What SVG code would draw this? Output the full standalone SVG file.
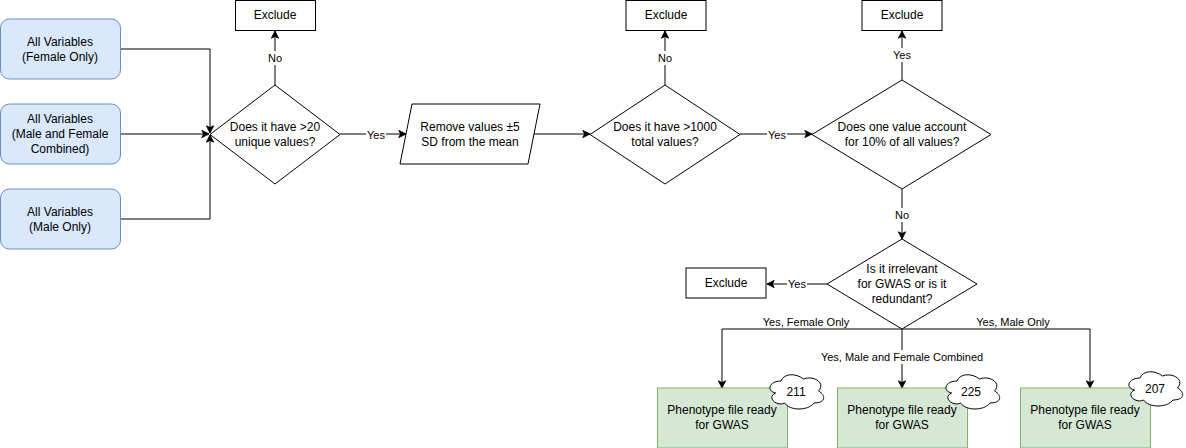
<svg xmlns="http://www.w3.org/2000/svg" width="1186" height="448" viewBox="0 0 1186 448">
<style>
  text { font-family: "Liberation Sans", Arial, sans-serif; font-size: 12px; fill: #000; text-anchor: middle; dominant-baseline: central; }
  .lbl { font-size: 11px; }
  .blue { fill: #dae8fc; stroke: #6c8ebf; stroke-width: 1; }
  .green { fill: #d5e8d4; stroke: #82b366; stroke-width: 1; }
  .plain { fill: #fff; stroke: #000; stroke-width: 1; }
  .edge { fill: none; stroke: #000; stroke-width: 1; }
  .lblbg { fill: #fff; }
</style>
<defs>
  <marker id="arr" viewBox="0 0 10 10" markerWidth="9" markerHeight="9" refX="9" refY="5" orient="auto" markerUnits="userSpaceOnUse">
    <path d="M1,1 L9,5 L1,9 L3,5 Z" fill="#000" stroke="#000" stroke-width="1"/>
  </marker>
  <path id="cloud" d="M15,10 C3,10 0,20 9.6,22 C0,26.4 10.8,36 18.6,32 C24,40 42,40 48,32 C60,32 60,24 52.5,20 C60,12 48,4 37.5,8 C30,2 18,2 15,10 Z"/>
</defs>
<rect width="1186" height="448" fill="#fff"/>

<g id="connectors">
  <path class="edge" d="M120,49 H210 V133" marker-end="url(#arr)"/>
  <path class="edge" d="M120,134 H209" marker-end="url(#arr)"/>
  <path class="edge" d="M120,219 H210 V135" marker-end="url(#arr)"/>
  <path class="edge" d="M275,85 V31" marker-end="url(#arr)"/>
  <path class="edge" d="M340,134 H406" marker-end="url(#arr)"/>
  <path class="edge" d="M534,134 H590" marker-end="url(#arr)"/>
  <path class="edge" d="M665,85 V31" marker-end="url(#arr)"/>
  <path class="edge" d="M740,134 H812" marker-end="url(#arr)"/>
  <path class="edge" d="M902,80 V31" marker-end="url(#arr)"/>
  <path class="edge" d="M902,189 V239" marker-end="url(#arr)"/>
  <path class="edge" d="M827,284 H767" marker-end="url(#arr)"/>
  <path class="edge" d="M902,329 H722 V388" marker-end="url(#arr)"/>
  <path class="edge" d="M902,329 V388" marker-end="url(#arr)"/>
  <path class="edge" d="M902,329 H1090 V388" marker-end="url(#arr)"/>
  <rect class="lblbg" x="268" y="51" width="15" height="14"/>
  <text class="lbl" x="275" y="58">No</text>
  <rect class="lblbg" x="366" y="128" width="20" height="14"/>
  <text class="lbl" x="376" y="135">Yes</text>
  <rect class="lblbg" x="658" y="51" width="15" height="14"/>
  <text class="lbl" x="665" y="58">No</text>
  <rect class="lblbg" x="767" y="128" width="20" height="14"/>
  <text class="lbl" x="777" y="135">Yes</text>
  <rect class="lblbg" x="892" y="48" width="20" height="14"/>
  <text class="lbl" x="902" y="55">Yes</text>
  <rect class="lblbg" x="895" y="208" width="15" height="14"/>
  <text class="lbl" x="902" y="215">No</text>
  <rect class="lblbg" x="787" y="277" width="20" height="14"/>
  <text class="lbl" x="797" y="284">Yes</text>
  <text class="lbl" x="806" y="322">Yes, Female Only</text>
  <rect class="lblbg" x="820" y="350" width="164" height="14"/>
  <text class="lbl" x="902" y="357">Yes, Male and Female Combined</text>
  <text class="lbl" x="1013" y="322">Yes, Male Only</text>
</g>

<g id="src-female">
  <rect class="blue" x="0.5" y="19" width="120" height="60" rx="9"/>
  <text x="60" y="42">All Variables</text>
  <text x="60" y="57">(Female Only)</text>
</g>
<g id="src-combined">
  <rect class="blue" x="0.5" y="104" width="120" height="60" rx="9"/>
  <text x="60" y="119">All Variables</text>
  <text x="60" y="134">(Male and Female</text>
  <text x="60" y="149">Combined)</text>
</g>
<g id="src-male">
  <rect class="blue" x="0.5" y="189" width="120" height="60" rx="9"/>
  <text x="60" y="212">All Variables</text>
  <text x="60" y="227">(Male Only)</text>
</g>

<g id="dec-unique">
  <polygon class="plain" points="275,85 340,134.5 275,184 210,134.5"/>
  <text x="275" y="127">Does it have &gt;20</text>
  <text x="275" y="142">unique values?</text>
</g>
<g id="excl-1">
  <rect class="plain" x="235.5" y="0.5" width="80" height="30"/>
  <text x="275" y="15">Exclude</text>
</g>

<g id="remove-sd">
  <polygon class="plain" points="412,104 540,104 528,164 400,164"/>
  <text x="470" y="127">Remove values ±5</text>
  <text x="470" y="142">SD from the mean</text>
</g>

<g id="dec-total">
  <polygon class="plain" points="665,85 740,134.5 665,184 590,134.5"/>
  <text x="665" y="127">Does it have &gt;1000</text>
  <text x="665" y="142">total values?</text>
</g>
<g id="excl-2">
  <rect class="plain" x="626" y="0.5" width="80" height="30"/>
  <text x="666" y="15">Exclude</text>
</g>

<g id="dec-tenpct">
  <polygon class="plain" points="902,80 991,134.5 902,189 812,134.5"/>
  <text x="902" y="127">Does one value account</text>
  <text x="902" y="142">for 10% of all values?</text>
</g>
<g id="excl-3">
  <rect class="plain" x="862" y="0.5" width="80" height="30"/>
  <text x="902" y="15">Exclude</text>
</g>

<g id="dec-irrelevant">
  <polygon class="plain" points="902,239 977,284 902,329 827,284"/>
  <text x="902" y="269">Is it irrelevant</text>
  <text x="902" y="284">for GWAS or is it</text>
  <text x="902" y="299">redundant?</text>
</g>
<g id="excl-4">
  <rect class="plain" x="686" y="268" width="80" height="30"/>
  <text x="726" y="283">Exclude</text>
</g>

<g id="out-female">
  <rect class="green" x="657.5" y="388" width="130" height="60"/>
  <text x="722" y="410">Phenotype file ready</text>
  <text x="722" y="425">for GWAS</text>
  <use href="#cloud" x="766" y="371" class="plain"/>
  <text x="796" y="392">211</text>
</g>
<g id="out-combined">
  <rect class="green" x="837.5" y="388" width="130" height="60"/>
  <text x="902" y="410">Phenotype file ready</text>
  <text x="902" y="425">for GWAS</text>
  <use href="#cloud" x="942" y="371" class="plain"/>
  <text x="971" y="392">225</text>
</g>
<g id="out-male">
  <rect class="green" x="1020.5" y="388" width="130" height="60"/>
  <text x="1085" y="410">Phenotype file ready</text>
  <text x="1085" y="425">for GWAS</text>
  <use href="#cloud" x="1125" y="368" class="plain"/>
  <text x="1155" y="389">207</text>
</g>
</svg>
